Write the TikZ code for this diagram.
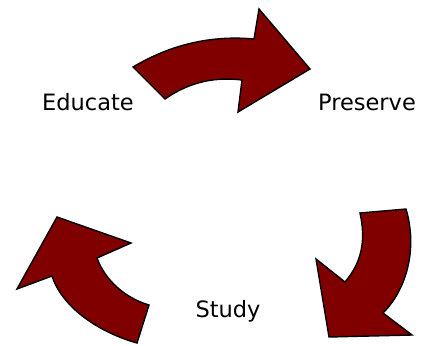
\documentclass[tikz,border=0pt]{standalone}
\usepackage{fontspec}
\setmainfont{DejaVu Sans}
\definecolor{maroonfill}{HTML}{800000}
\begin{document}
\begin{tikzpicture}[x=1pt,y=-1pt,
  cyclearrow/.style={fill=maroonfill,draw=black,line width=1.4pt,line join=miter},
  lbl/.style={font=\fontsize{22.5}{27}\selectfont,inner sep=0pt}]
\useasboundingbox (0,0) rectangle (427,345);
% top arrow: Educate -> Preserve
\path[cyclearrow] (133,67) .. controls (170,45) and (210,35) .. (254,39)
  -- (259,9) -- (310,69) -- (238,112) -- (242,80)
  .. controls (210,76) and (185,85) .. (165,99) -- cycle;
% right arrow: Preserve -> Study
\path[cyclearrow] (360,213) -- (406,209)
  .. controls (418,250) and (406,290) .. (383,313)
  -- (412,335) -- (329,337) -- (316,259) -- (345,282)
  .. controls (362,262) and (366,240) .. (360,213) -- cycle;
% left arrow: Study -> Educate
\path[cyclearrow] (57,217) -- (131,243) -- (97,258)
  .. controls (105,280) and (125,298) .. (149,305)
  -- (137,343) .. controls (98,332) and (62,307) .. (52,276)
  -- (17,289) -- cycle;
\node[lbl] (educate) at (88,102) {Educate};
\node[lbl] (preserve) at (367,102) {Preserve};
\node[lbl] (study) at (228,311) {Study};
\end{tikzpicture}
\end{document}
